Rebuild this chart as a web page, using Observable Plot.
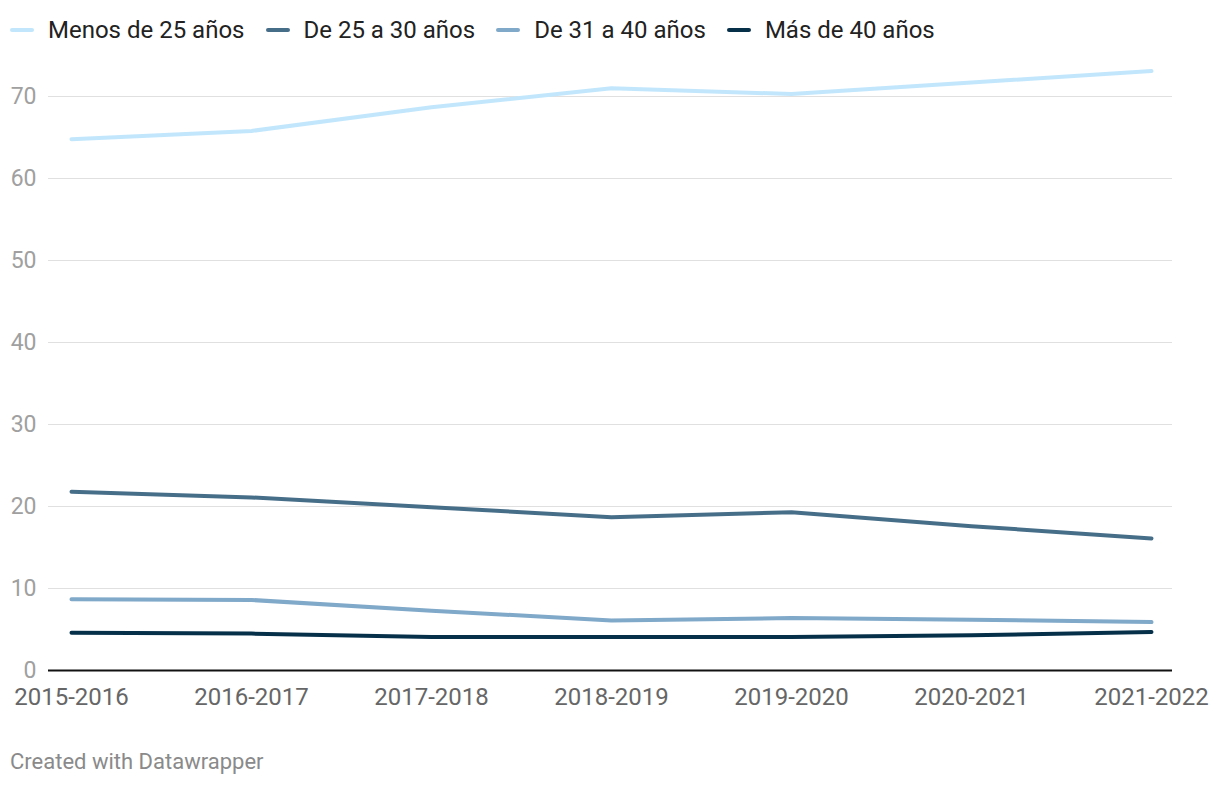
<!DOCTYPE html>
<html>
<head>
<meta charset="utf-8">
<script src="https://cdn.jsdelivr.net/npm/d3@7"></script>
<script src="https://cdn.jsdelivr.net/npm/@observablehq/plot@0.6"></script>
<style>
  html, body { margin: 0; padding: 0; background: #fff; }
  body { width: 1220px; height: 786px; font-family: Roboto, "Noto Sans", sans-serif; position: relative; overflow: hidden; }
  #legend { position: absolute; left: 10px; top: 16px; display: flex; align-items: center; font-size: 24px; line-height: 28px; color: #222; }
  .item { display: flex; align-items: center; margin-right: 21px; }
  .sw { width: 24px; height: 4px; border-radius: 2px; margin-right: 14px; }
  #chart { position: absolute; left: 0; top: 50px; }
  #caption { position: absolute; left: 10px; top: 749px; font-size: 22px; color: #8a8a8a; }
</style>
</head>
<body>
<div id="legend"></div>
<div id="chart"></div>
<div id="caption">Created with Datawrapper</div>
<script>
const seasons = ["2015-2016", "2016-2017", "2017-2018", "2018-2019", "2019-2020", "2020-2021", "2021-2022"];
const seriesNames = ["Menos de 25 años", "De 25 a 30 años", "De 31 a 40 años", "Más de 40 años"];
const seriesColors = ["#c2e7fc", "#476e89", "#7fa8c9", "#06304a"];
const menos25 = [64.8, 65.8, 68.7, 71.0, 70.3, 71.7, 73.1];
const de25a30 = [21.8, 21.1, 19.9, 18.7, 19.3, 17.6, 16.1];
const de31a40 = [8.7, 8.6, 7.3, 6.1, 6.4, 6.2, 5.9];
const mas40 = [4.6, 4.5, 4.1, 4.1, 4.1, 4.3, 4.7];
const yTicks = [0, 10, 20, 30, 40, 50, 60, 70];

const allSeries = [menos25, de25a30, de31a40, mas40];
const data = [];
allSeries.forEach((vals, i) => vals.forEach((v, j) => data.push({season: seasons[j], value: v, series: seriesNames[i]})));

const legend = document.getElementById("legend");
seriesNames.forEach((n, i) => {
  const it = document.createElement("div");
  it.className = "item";
  it.innerHTML = `<span class="sw" style="background:${seriesColors[i]}"></span><span>${n}</span>`;
  legend.appendChild(it);
});

const chart = Plot.plot({
  width: 1220,
  height: 670,
  marginTop: 5,
  marginLeft: 48,
  marginRight: 48,
  marginBottom: 50,
  style: {fontFamily: "Roboto, sans-serif", background: "#fff"},
  x: {type: "point", domain: seasons, padding: 0, insetLeft: 20, insetRight: 19},
  y: {domain: [0, 75]},
  color: {domain: seriesNames, range: seriesColors},
  marks: [
    Plot.gridY(yTicks, {stroke: "#e0e0e0", strokeOpacity: 1, strokeWidth: 1}),
    Plot.axisY(yTicks, {tickSize: 0, tickPadding: 12, fontSize: 23, fill: "#a0a0a0", label: null}),
    Plot.axisX(seasons, {tickSize: 0, tickPadding: 17, fontSize: 24, fill: "#666", label: null}),
    Plot.ruleY([0], {stroke: "#111", strokeWidth: 2}),
    Plot.line(data, {x: "season", y: "value", z: "series", stroke: "series", strokeWidth: 4, strokeLinecap: "round", strokeLinejoin: "round"})
  ]
});
document.getElementById("chart").appendChild(chart);
</script>
</body>
</html>
